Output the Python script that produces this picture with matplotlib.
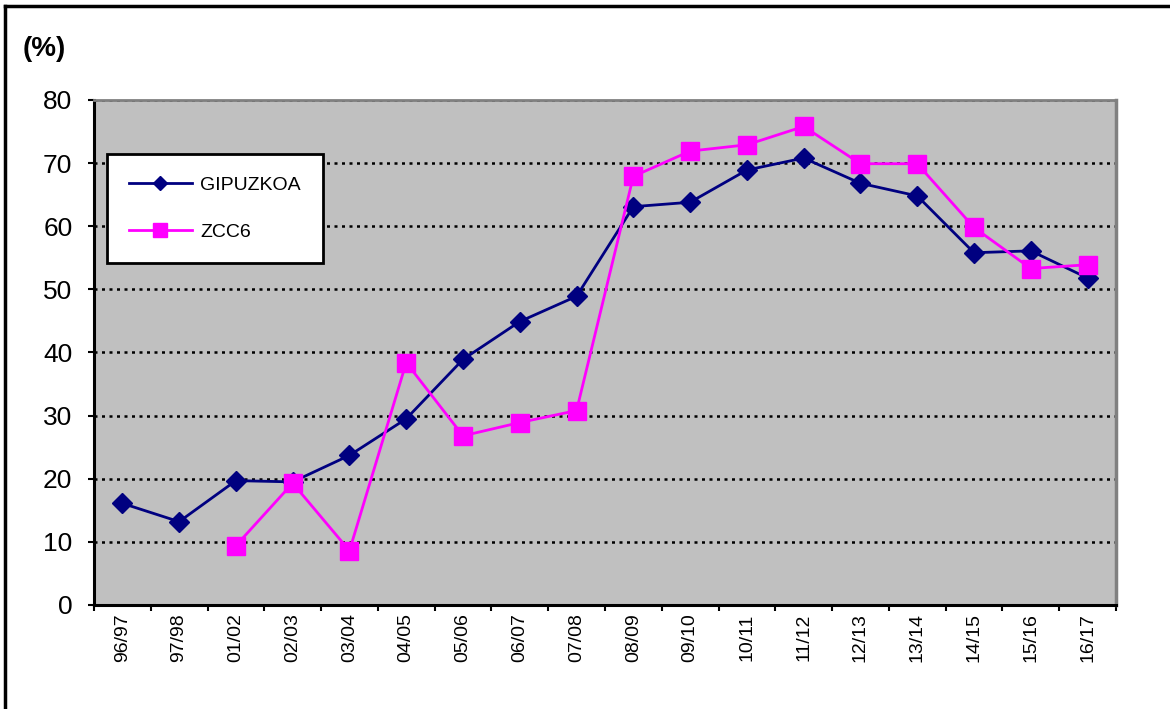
import numpy as np
import matplotlib.pyplot as plt
from matplotlib.lines import Line2D

plt.rcParams['font.family'] = ['Liberation Sans', 'DejaVu Sans']

seasons = ["96/97", "97/98", "01/02", "02/03", "03/04", "04/05", "05/06", "06/07", "07/08",
           "08/09", "09/10", "10/11", "11/12", "12/13", "13/14", "14/15", "15/16", "16/17"]
gipuzkoa = [16.1, 13.2, 19.7, 19.5, 23.7, 29.5, 38.9, 44.9, 48.9,
            63.1, 63.8, 68.9, 70.8, 66.8, 64.8, 55.8, 56.1, 51.8]
zcc6 = [np.nan, np.nan, 9.4, 19.3, 8.6, 38.4, 26.8, 28.9, 30.8,
        67.9, 71.9, 72.9, 75.8, 69.9, 69.9, 59.8, 53.3, 53.9]

fig = plt.figure(figsize=(11.7, 7.09), dpi=100)
ax = fig.add_axes([0.0803, 0.1467, 0.8735, 0.7123])
ax.set_facecolor('#C0C0C0')

x = np.arange(len(seasons))
ax.plot(x, gipuzkoa, color='#000080', lw=2, marker='D', ms=10, mec='#000080', label='GIPUZKOA', zorder=3)
ax.plot(x, zcc6, color='#FF00FF', lw=2, marker='s', ms=13, mec='#FF00FF', label='ZCC6', zorder=4)

ax.set_xlim(-0.5, len(seasons) - 0.5)
ax.set_ylim(0, 80)
ax.set_yticks(range(0, 81, 10))
ax.yaxis.grid(True, color='black', ls=(0, (1.2, 1.8)), lw=1.8)
ax.set_axisbelow(True)

# category labels at centers, tick marks at boundaries
ax.set_xticks(x)
ax.set_xticklabels(seasons, rotation=90, fontsize=14)
ax.tick_params(axis='x', length=0, pad=6)
ax.set_xticks(np.arange(-0.5, len(seasons)), minor=True)
ax.tick_params(axis='x', which='minor', length=4.5, width=1.5, direction='out')
ax.tick_params(axis='y', labelsize=19, length=4.5, width=1.5, direction='out', pad=11)

ax.spines['left'].set_linewidth(2.2)
ax.spines['bottom'].set_linewidth(2.2)
ax.spines['top'].set_color('#808080')
ax.spines['top'].set_linewidth(2)
ax.spines['right'].set_color('#808080')
ax.spines['right'].set_linewidth(2.5)

leg = ax.legend(loc='upper left', bbox_to_anchor=(0.0127, 0.893), fontsize=14,
                frameon=True, fancybox=False, edgecolor='black', framealpha=1,
                borderpad=1.15, labelspacing=1.5, handlelength=3.2, handletextpad=0.45,
                borderaxespad=0, markerscale=0.75)
leg.get_frame().set_linewidth(2)

fig.text(0.019, 0.931, '(%)', fontsize=20, fontweight='bold', va='center', ha='left')

# outer frame
fig.add_artist(Line2D([0.004, 0.004], [0, 0.991], color='black', lw=2.5, transform=fig.transFigure))
fig.add_artist(Line2D([0.004, 1.0], [0.991, 0.991], color='black', lw=2.5, transform=fig.transFigure))

fig.savefig('out.png', dpi=100)
